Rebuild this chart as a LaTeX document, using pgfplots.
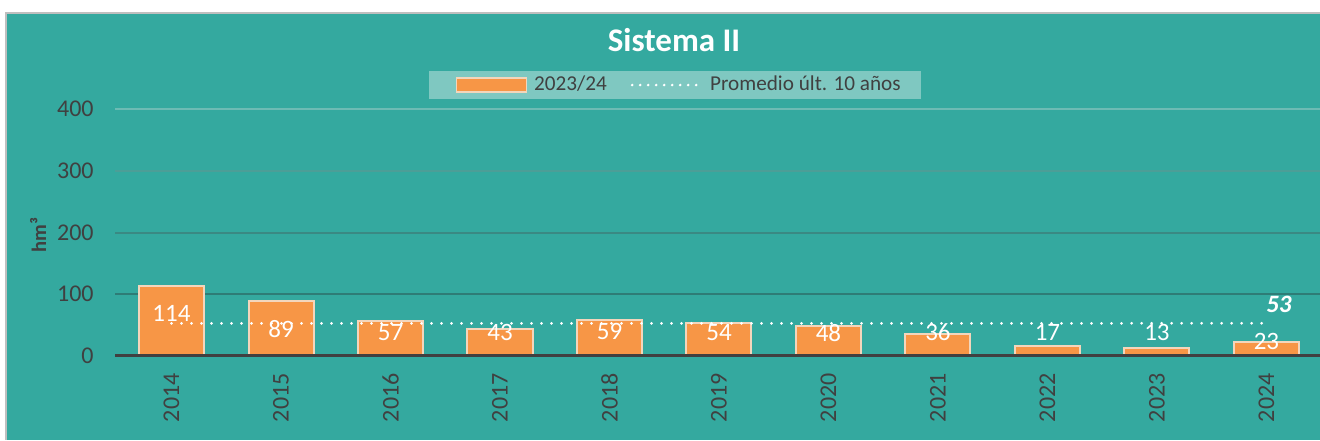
\documentclass[border=0pt]{standalone}
\usepackage{pgfplots}
\pgfplotsset{compat=1.18}
\usepackage{fontspec}
\setmainfont{Carlito}
\definecolor{bgteal}{HTML}{34A99F}
\definecolor{barorange}{HTML}{F79646}
\definecolor{baredge}{HTML}{F3D6BC}
\definecolor{txtgrey}{HTML}{404040}
\definecolor{legfill}{HTML}{7FC8C1}
\definecolor{gridA}{HTML}{2E7C76}
\definecolor{gridB}{HTML}{3A8983}
\definecolor{gridC}{HTML}{4C9E97}
\definecolor{gridD}{HTML}{6DBBB4}
\definecolor{bordergrey}{HTML}{BFBFBF}
\newcommand{\fs}{\fontsize{12.5bp}{15bp}\selectfont}
\newcommand{\ft}{\fontsize{12bp}{14bp}\selectfont}
\newcommand{\fl}{\fontsize{10.6bp}{13bp}\selectfont}
\begin{document}
\begin{tikzpicture}[x=1bp,y=1bp]
\fill[white] (0,0) rectangle (660,220);
\fill[bordergrey] (2.5,0) rectangle (660,214);
\fill[bgteal] (3.5,0) rectangle (660,213);
\useasboundingbox (0,0) rectangle (660,220);
\node[font=\fontsize{16.5bp}{19bp}\selectfont\bfseries, text=white] at (337,200) {Sistema II};
\begin{axis}[
  at={(57.5bp,42bp)}, anchor=south west,
  width=602.5bp, height=123.5bp, scale only axis,
  xmin=-0.516, xmax=10.489, ymin=0, ymax=400,
  axis line style={draw=none},
  tick style={draw=none},
  xtick={0,...,10},
  xticklabels={2014,2015,2016,2017,2018,2019,2020,2021,2022,2023,2024},
  ytick={0,100,200,300,400},
  /pgf/number format/assume math mode=true,
  xticklabel style={rotate=90, anchor=east, inner sep=0pt, font=\ft, text=txtgrey},
  xticklabel shift=8.5bp,
  yticklabel style={anchor=east, inner sep=0pt, font=\ft, text=txtgrey},
  yticklabel shift=10.5bp,
  ylabel={hm³},
  ylabel style={at={(axis description cs:-0.0639,0.49)}, anchor=center, font=\fontsize{10.3bp}{12bp}\selectfont\bfseries, text=txtgrey},
  legend style={at={(axis description cs:0.4647,1.097)}, anchor=center, fill=legfill, draw=none,
    font=\fl, text=txtgrey, inner xsep=8bp, inner ysep=0.5bp,
    /tikz/every even column/.append style={column sep=10bp},
    /tikz/every odd column/.append style={column sep=1.5bp}},
  legend columns=2,
]
\draw[gridA, line width=1bp] (axis cs:-0.516,100) -- (axis cs:10.489,100);
\draw[gridB, line width=1bp] (axis cs:-0.516,200) -- (axis cs:10.489,200);
\draw[gridC, line width=1bp] (axis cs:-0.516,300) -- (axis cs:10.489,300);
\draw[gridD, line width=1.2bp] (axis cs:-0.516,400) -- (axis cs:10.489,400);
\addplot[ybar, bar width=32.5bp, bar shift=0pt, fill=barorange, draw=baredge, line width=1bp,
  legend image code/.code={\path[draw=none, fill=none] (-5.5bp,-1bp) rectangle (0bp,1bp); \draw[fill=barorange, draw=baredge, line width=0.8bp] (0bp,-3.5bp) rectangle (35bp,3.5bp);}]
  coordinates {(0,114) (1,89) (2,57) (3,43) (4,59) (5,54) (6,48) (7,36) (8,17) (9,13) (10,23)};
\addlegendentry{2023/24}
\addplot[white, line width=1.5bp, line cap=round, dash pattern=on 0bp off 5bp,
  legend image code/.code={\draw[white, line width=1.4bp, line cap=round, dash pattern=on 0bp off 4bp] (0bp,0bp) -- (32.1bp,0bp); \path[draw=none, fill=none] (32bp,-1bp) rectangle (35.5bp,1bp);}]
  coordinates {(0,53) (10,53)}
  node[pos=1, xshift=6.25bp, yshift=9.5bp, font=\fs\bfseries\itshape, text=white] {53};
\addlegendentry{Promedio últ. 10 años}
\addplot[draw=none, mark=none, forget plot, nodes near coords, point meta=explicit symbolic,
  nodes near coords style={anchor=center, text=white, font=\fs}]
  coordinates {(0,69.6)[114] (1,43.7)[89] (2,38.3)[57] (3,38.3)[43] (4,39.4)[59] (5,38.3)[54]
               (6,37.8)[48] (7,38.3)[36] (8,38.9)[17] (9,38.9)[13] (10,23.2)[23]};
\draw[txtgrey, line width=1.75bp] (axis cs:-0.516,0) -- (axis cs:10.489,0);
\end{axis}
\end{tikzpicture}
\end{document}
